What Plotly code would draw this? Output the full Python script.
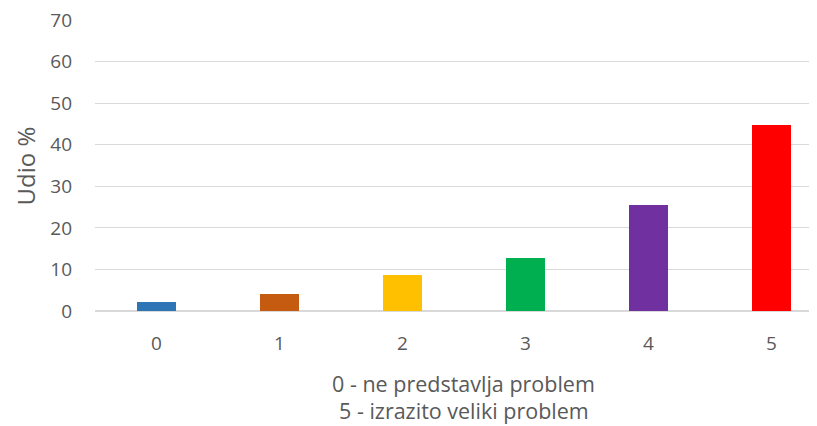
import plotly.graph_objects as go

categories = ["0", "1", "2", "3", "4", "5"]
values = [2.1, 4.2, 8.6, 12.7, 25.5, 44.7]
colors = ["#2E75B6", "#C55A11", "#FFC000", "#00B050", "#7030A0", "#FF0000"]
y_ticks = [0, 10, 20, 30, 40, 50, 60, 70]
y_title = "Udio %"
x_title_lines = ["0 - ne predstavlja problem", "5 - izrazito veliki problem"]

font_family = "'Open Sans', sans-serif"
text_color = "#595959"

fig = go.Figure()
fig.add_trace(go.Bar(
    x=[int(c) for c in categories],
    y=values,
    marker=dict(color=colors, line=dict(width=0)),
    width=0.315,
    showlegend=False,
))

# page body has an 8px margin; compensate so the plot lands where the reference has it
fig.update_layout(
    width=809, height=418,
    margin=dict(l=87, r=0, t=12, b=115),
    paper_bgcolor="white", plot_bgcolor="white",
    font=dict(family=font_family, size=19, color=text_color),
    xaxis=dict(
        range=[-0.5, 5.37],
        tickmode="array",
        tickvals=[int(c) for c in categories],
        ticktext=categories,
        showgrid=False,
        zeroline=False,
        showline=False,
        ticks="",
        ticklabelstandoff=19,
        ticklabeloverflow="allow",
        tickfont=dict(size=19, color=text_color),
    ),
    yaxis=dict(
        range=[0, 70],
        tickvals=y_ticks,
        showgrid=True,
        gridcolor="#D9D9D9",
        gridwidth=1.3,
        zeroline=True,
        zerolinecolor="#D9D9D9",
        zerolinewidth=1.5,
        showline=False,
        ticks="",
        ticklabelstandoff=22,
        ticklabeloverflow="allow",
        tickfont=dict(size=19, color=text_color),
    ),
    bargap=0,
)

fig.add_annotation(
    x=-0.0956, xref="paper", y=0.5, yref="paper",
    text=y_title, textangle=-90, showarrow=False,
    xanchor="center", yanchor="middle",
    font=dict(size=24, color=text_color, family=font_family),
)

for line, ypos in zip(x_title_lines, [-0.248, -0.343]):
    fig.add_annotation(
        x=2.5, xref="x", y=ypos, yref="paper",
        text=line, showarrow=False,
        xanchor="center", yanchor="middle",
        font=dict(size=21.5, color=text_color, family=font_family),
    )

fig.write_html("out.html")
